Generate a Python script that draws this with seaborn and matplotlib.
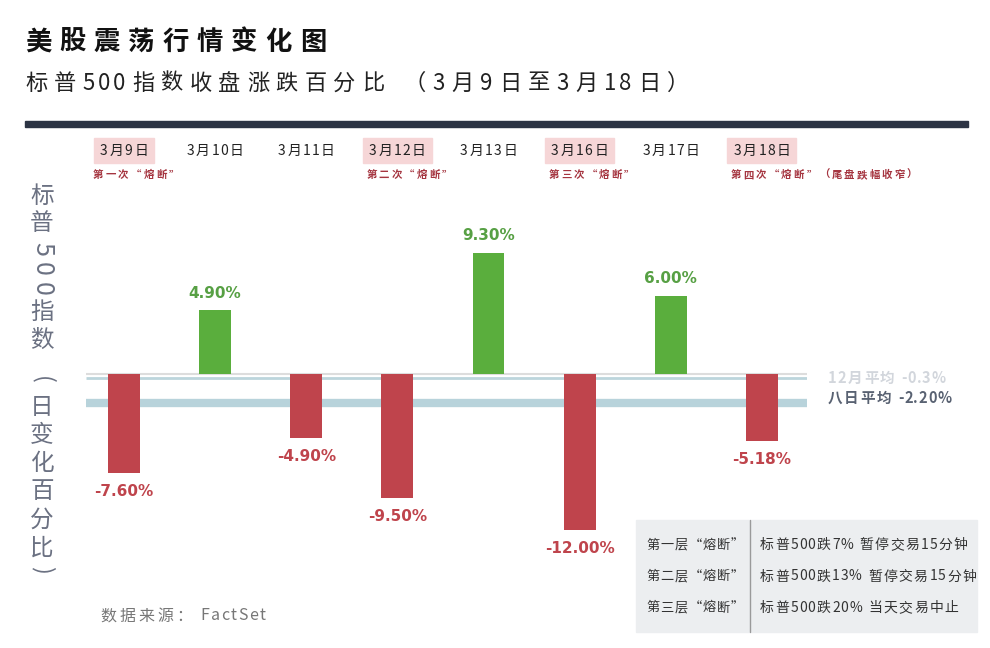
import matplotlib
matplotlib.use("Agg")
import matplotlib.pyplot as plt
import numpy as np
import pandas as pd
import seaborn as sns

# ---- data ----
dates = ["3月9日", "3月10日", "3月11日", "3月12日", "3月13日", "3月16日", "3月17日", "3月18日"]
changes = [-7.60, 4.90, -4.90, -9.50, 9.30, -12.00, 6.00, -5.18]
breaker_notes = ["第一次“熔断”", "", "", "第二次“熔断”", "", "第三次“熔断”", "", "第四次“熔断”（尾盘跌幅收窄）"]
dec_avg = -0.3         # 12月平均
eight_day_avg = -2.20  # 八日平均
rule_names = ["第一层“熔断”", "第二层“熔断”", "第三层“熔断”"]
rule_texts = ["标普500跌7% 暂停交易15分钟", "标普500跌13% 暂停交易15分钟", "标普500跌20% 当天交易中止"]

df = pd.DataFrame({"date": dates, "change": changes})
up_c, down_c = "#5aae3d", "#bf444c"
bar_colors = [up_c if v > 0 else down_c for v in changes]

sns.set_theme(style="white")
plt.rcParams["font.family"] = ["Noto Sans CJK SC", "DejaVu Sans"]

W, H = 990, 648
fig = plt.figure(figsize=(W / 100, H / 100), dpi=100)
renderer = fig.canvas.get_renderer()


def fx(px):
    return px / W


def fy(py):
    return 1 - py / H


def tracked(x, y, s, track, ha="left", **kw):
    """draw text char by char with extra letter spacing (px, top-left origin)"""
    widths = []
    for ch in s:
        t = fig.text(0, 0, ch if ch != " " else "a", **kw)
        w = t.get_window_extent(renderer).width
        t.remove()
        widths.append(w * 0.5 if ch == " " else w)
    gaps = []
    for a, b in zip(s[:-1], s[1:]):
        # digits sit closer together than CJK glyphs
        gaps.append(track * 0.45 if (a.isascii() and b.isascii()) else track)
    gaps.append(0)
    total = sum(widths) + sum(gaps)
    pos = x - total / 2 if ha == "center" else x
    start = pos
    for ch, w, g in zip(s, widths, gaps):
        if ch != " ":
            fig.text(fx(pos), fy(y), ch, ha="left", va="center", **kw)
        pos += w + g
    return start, total


# title block
tracked(25, 42, "美股震荡行情变化图", 8, fontsize=19, fontweight="bold", color="#111111")
tracked(25, 83, "标普500指数收盘涨跌百分比 （3月9日至3月18日）", 6.5, fontsize=16,
        color="#222222")
fig.patches.append(plt.Rectangle((fx(25), fy(127)), fx(968 - 25), 6 / H,
                                 transform=fig.transFigure, color="#2c3444"))

# main axes: zero at y=374px, ~13px per percent
ax = fig.add_axes([fx(78.4), fy(543), fx(729), 305.5 / H])
ax.set_xlim(-0.5, 7.5)
ax.set_ylim(-13, 10.5)

ax.axhline(0, xmin=0.01, xmax=1.0, color="#dddddd", lw=1.5, zorder=0, solid_capstyle="butt")
ax.axhline(dec_avg, xmin=0.01, xmax=1.0, color="#bcd5dc", lw=2, zorder=0, solid_capstyle="butt")
ax.axhline(eight_day_avg, xmin=0.01, xmax=1.0, color="#b8d3db", lw=6, zorder=0,
           solid_capstyle="butt")

sns.barplot(data=df, x="date", y="change", hue="date", palette=bar_colors,
            width=0.35, legend=False, saturation=1, linewidth=0, ax=ax, zorder=2)

for i, v in enumerate(changes):
    col = "#57a044" if v > 0 else "#bf444c"
    off = 0.75 if v > 0 else -0.85
    ax.text(i, v + off, f"{v:.2f}%", ha="center", va="bottom" if v > 0 else "top",
            fontsize=11, fontweight="bold", color=col, family="DejaVu Sans")

ax.set_xlabel("")
ax.set_ylabel("")
ax.set_xticks([])
ax.set_yticks([])
for s in ax.spines.values():
    s.set_visible(False)
ax.patch.set_alpha(0)

# date header row and breaker notes
for i, (d, note) in enumerate(zip(dates, breaker_notes)):
    xc = ax.transData.transform((i, 0))[0]
    x0, tw = tracked(xc, 151, d, 1.8, ha="center", fontsize=10, color="#222222")
    if note:
        fig.patches.append(plt.Rectangle((fx(x0 - 6), fy(163)), fx(tw + 12), 25 / H,
                                         transform=fig.transFigure, color="#f6d6d7",
                                         zorder=-1))
        tracked(xc - 31, 175, note, 2.2, fontsize=7.5, fontweight="bold", color="#a53540")

# average labels
tracked(828, 378, "12月平均 -0.3%", 1.6, fontsize=10.5, fontweight="bold", color="#d2d6dc")
tracked(828, 398, "八日平均 -2.20%", 1.6, fontsize=10.5, fontweight="bold", color="#596272")

# vertical y label: CJK upright, digits and brackets turned
ylabel_chars = list("标普500指数") + [None] + list("（日变化百分比）")
ypos = 196
for ch in ylabel_chars:
    if ch is None:
        ypos += 18
        continue
    if ch.isdigit():
        fig.text(fx(42), fy(ypos - 3), ch, fontsize=18, color="#6b7182", rotation=-90,
                 ha="center", va="center")
        ypos += 20
    elif ch in "（）":
        fig.text(fx(42), fy(ypos - 6), "(" if ch == "（" else ")", fontsize=17,
                 color="#6b7182", rotation=-90, ha="center", va="center")
        ypos += 22
    else:
        fig.text(fx(42), fy(ypos), ch, fontsize=17, color="#6b7182",
                 ha="center", va="center")
        ypos += 28

# source
tracked(100, 616, "数据来源： FactSet", 3, fontsize=11.5, color="#777777")

# circuit breaker rules box
fig.patches.append(plt.Rectangle((fx(636), fy(632)), fx(977 - 636), 112 / H,
                                 transform=fig.transFigure, color="#eceef0", zorder=0))
fig.lines.append(plt.Line2D([fx(750), fx(750)], [fy(520), fy(632)],
                            transform=fig.transFigure, color="#9a9a9a", lw=1))
for k, (nm, tx) in enumerate(zip(rule_names, rule_texts)):
    yy = 545 + 31.5 * k
    tracked(695, yy, nm, 0.8, ha="center", fontsize=9.5, color="#333333")
    tracked(760, yy, tx, 1.5, fontsize=10, color="#333333")

fig.savefig("out.png", dpi=100, facecolor="white")
